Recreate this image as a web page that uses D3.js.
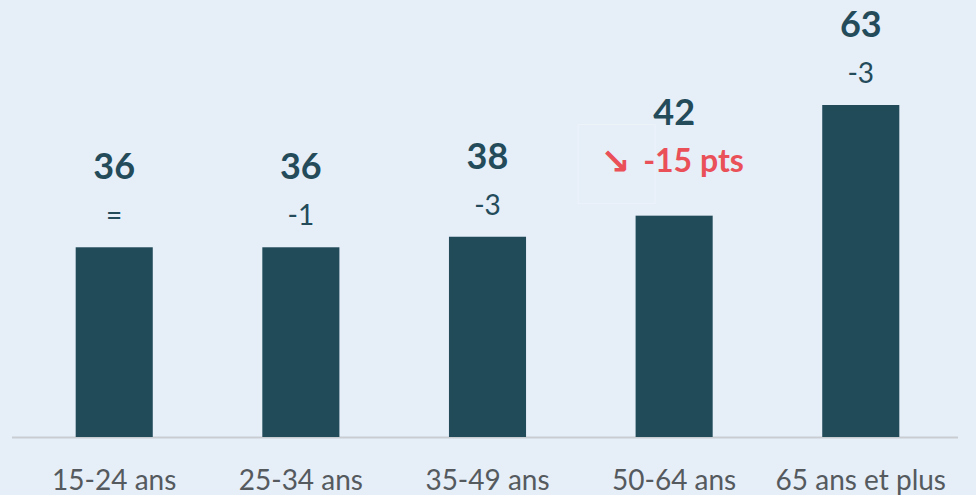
<!DOCTYPE html>
<html><head><meta charset="utf-8">
<script src="https://cdn.jsdelivr.net/npm/d3@7"></script>
<style>
html,body{margin:0;padding:0;background:#e6eef8;}
svg{display:block;}
</style></head>
<body>
<svg id="c" width="976" height="495"></svg>
<script>
const categories = ["15-24 ans","25-34 ans","35-49 ans","50-64 ans","65 ans et plus"];
const values = [36, 36, 38, 42, 63];
const deltas = ["=", "-1", "-3", "", "-3"];
const highlight = {index: 3, text: "-15 pts"};

const W = 976, H = 495;
const svg = d3.select("#c");
svg.append("rect").attr("width", W).attr("height", H).attr("fill", "#e6eef8");

const baseY = 437;
const x = d3.scaleBand().domain(categories).range([21, 954]).paddingInner(0.587).paddingOuter(0.293);
const y = d3.scaleLinear().domain([0, 63]).range([baseY, 105]);

svg.append("line").attr("x1", 12).attr("x2", 958).attr("y1", baseY + 0.5).attr("y2", baseY + 0.5)
  .attr("stroke", "#c9cdd2").attr("stroke-width", 2);

svg.selectAll("rect.bar").data(values).join("rect").attr("class", "bar")
  .attr("x", (d, i) => x(categories[i]))
  .attr("width", x.bandwidth())
  .attr("y", d => y(d))
  .attr("height", d => baseY - y(d))
  .attr("fill", "#224b5a");

const font = "Lato, 'Open Sans', sans-serif";

svg.selectAll("text.val").data(values).join("text").attr("class", "val")
  .attr("x", (d, i) => x(categories[i]) + x.bandwidth() / 2)
  .attr("y", (d, i) => y(d) - (i === highlight.index ? 91 : 68))
  .attr("text-anchor", "middle")
  .attr("font-family", font).attr("font-weight", 700).attr("font-size", 36)
  .attr("fill", "#234b5a")
  .text(d => d);

svg.selectAll("text.delta").data(values).join("text").attr("class", "delta")
  .attr("x", (d, i) => x(categories[i]) + x.bandwidth() / 2)
  .attr("y", d => y(d) - 22)
  .attr("text-anchor", "middle")
  .attr("font-family", font).attr("font-weight", 400).attr("font-size", 28)
  .attr("fill", "#234b5a")
  .text((d, i) => deltas[i]);

// highlight annotation
const hi = highlight.index;
const hx = x(categories[hi]) + x.bandwidth() / 2;
const hy = y(values[hi]) - 44;
svg.append("rect").attr("x", hx - 96).attr("y", y(values[hi]) - 91).attr("width", 77).attr("height", 79)
  .attr("fill", "none").attr("stroke", "#eef3fa").attr("stroke-width", 1);
svg.append("text").attr("x", hx - 74).attr("y", hy + 2)
  .attr("font-family", "'DejaVu Sans', sans-serif").attr("font-weight", 700).attr("font-size", 36)
  .attr("fill", "#ea5058").text("\u2198");
svg.append("text").attr("x", hx - 31).attr("y", hy)
  .attr("font-family", font).attr("font-weight", 700).attr("font-size", 32)
  .attr("fill", "#ea5058").text(highlight.text);

svg.selectAll("text.cat").data(categories).join("text").attr("class", "cat")
  .attr("x", d => x(d) + x.bandwidth() / 2)
  .attr("y", 490)
  .attr("text-anchor", "middle")
  .attr("font-family", font).attr("font-size", 28)
  .attr("fill", "#555a5e")
  .text(d => d);
</script>
</body></html>
